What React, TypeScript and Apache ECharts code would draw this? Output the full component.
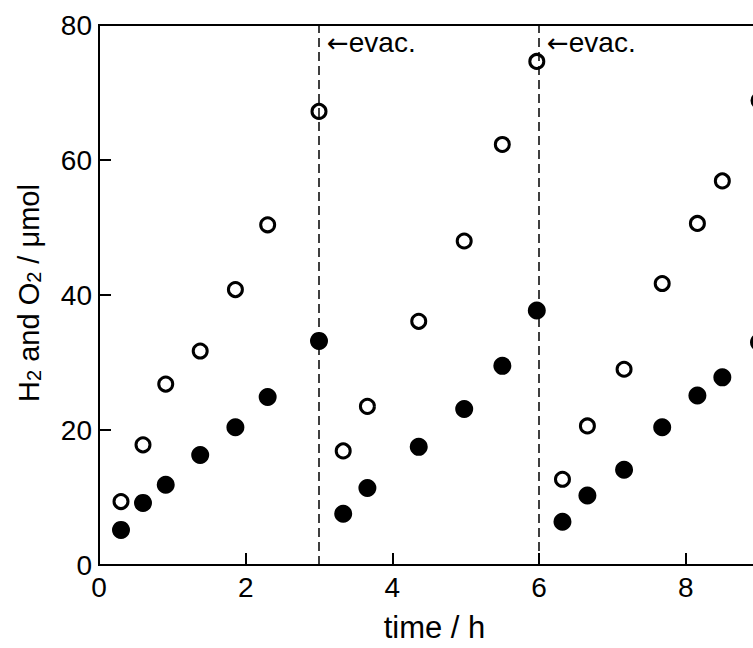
import React, { useEffect, useRef } from "react";
import * as echarts from "echarts";

const timeH = [0.3, 0.6, 0.91, 1.38, 1.86, 2.3, 3.0, 3.33, 3.66, 4.36, 4.98, 5.5, 5.97, 6.32, 6.66, 7.16, 7.68, 8.16, 8.5, 9.0];
const filledValues = [5.2, 9.2, 11.9, 16.3, 20.4, 24.9, 33.2, 7.6, 11.4, 17.5, 23.1, 29.5, 37.7, 6.4, 10.3, 14.1, 20.4, 25.1, 27.8, 33.0];
const openValues = [9.4, 17.8, 26.8, 31.7, 40.8, 50.4, 67.2, 16.9, 23.5, 36.1, 48.0, 62.3, 74.6, 12.7, 20.6, 29.0, 41.7, 50.6, 56.9, 68.8];
const evacTimes = [3, 6];
const evacLabelY = 77.4;
const xTicks = [0, 2, 4, 6, 8];
const yTicks = [0, 20, 40, 60, 80];

const FONT = "'Liberation Sans', Arial, sans-serif";

export default function App() {
  const ref = useRef<HTMLDivElement>(null);
  useEffect(() => {
    if (!ref.current) return;
    const chart = echarts.init(ref.current, undefined, { renderer: "svg" });
    const axisCommon = {
      axisLine: { show: true, lineStyle: { color: "#000", width: 2 } },
      axisTick: { show: true, inside: true, length: 12, lineStyle: { color: "#000", width: 2 } },
      splitLine: { show: false },
    };
    chart.setOption({
      animation: false,
      backgroundColor: "#fff",
      textStyle: { fontFamily: FONT },
      grid: {
        left: 99,
        top: 25,
        bottom: 78,
        right: 3,
        show: true,
        borderColor: "#000",
        borderWidth: 2,
        containLabel: false,
      },
      xAxis: {
        type: "value",
        min: 0,
        max: 9,
        interval: 2,
        ...axisCommon,
        axisLabel: {
          color: "#000",
          fontSize: 28,
          fontFamily: FONT,
          margin: 8,
          showMaxLabel: false,
          formatter: (v: number) => (xTicks.includes(v) ? String(v) : ""),
        },
        name: "time / h",
        nameLocation: "middle",
        nameGap: 47,
        nameTextStyle: { color: "#000", fontSize: 31, fontFamily: FONT, padding: [0, 0, 0, 11] },
      },
      yAxis: {
        type: "value",
        min: 0,
        max: 80,
        interval: 20,
        ...axisCommon,
        axisLabel: {
          color: "#000",
          fontSize: 28,
          fontFamily: FONT,
          margin: 7,
          formatter: (v: number) => (yTicks.includes(v) ? String(v) : ""),
        },
      },
      graphic: [
        {
          type: "text",
          x: 29,
          y: 293,
          rotation: Math.PI / 2,
          style: {
            text: "H{sub|2} and O{sub|2} / μmol",
            fontSize: 29,
            fontFamily: FONT,
            fill: "#000",
            align: "center",
            verticalAlign: "middle",
            rich: {
              sub: { fontSize: 20, fontFamily: FONT, fill: "#000", padding: [10, 0, 0, 0], verticalAlign: "bottom" },
            },
          },
        },
      ],
      series: [
        {
          type: "scatter",
          name: "lines",
          data: [],
          markLine: {
            silent: true,
            symbol: "none",
            label: { show: false },
            lineStyle: { color: "#000", width: 1.5, type: [9, 5], opacity: 1 },
            data: evacTimes.map((t) => ({ xAxis: t })),
          },
        },
        {
          type: "scatter",
          name: "filled",
          symbol: "circle",
          symbolSize: 18,
          itemStyle: { color: "#000", opacity: 1 },
          data: timeH.map((t, i) => [t, filledValues[i]]),
          z: 3,
        },
        {
          type: "scatter",
          name: "open",
          symbol: "circle",
          symbolSize: 14,
          itemStyle: { color: "#fff", borderColor: "#000", borderWidth: 3, opacity: 1 },
          data: timeH.map((t, i) => [t, openValues[i]]),
          z: 4,
        },
        {
          type: "scatter",
          name: "evac",
          symbolSize: 0,
          itemStyle: { opacity: 1 },
          data: evacTimes.map((t) => [t, evacLabelY]),
          label: {
            show: true,
            position: "right",
            distance: 8,
            formatter: "{arr|←}evac.",
            color: "#000",
            opacity: 1,
            fontSize: 28,
            fontFamily: FONT,
            rich: {
              arr: { fontFamily: "'DejaVu Sans'", fontSize: 26, color: "#000" },
            },
          },
          z: 5,
        },
      ],
    });
    return () => chart.dispose();
  }, []);
  return (
    <div style={{ position: "absolute", left: 0, top: 0, width: 753, height: 648, overflow: "hidden" }}>
      <div ref={ref} style={{ width: 762, height: 648 }} />
    </div>
  );
}
